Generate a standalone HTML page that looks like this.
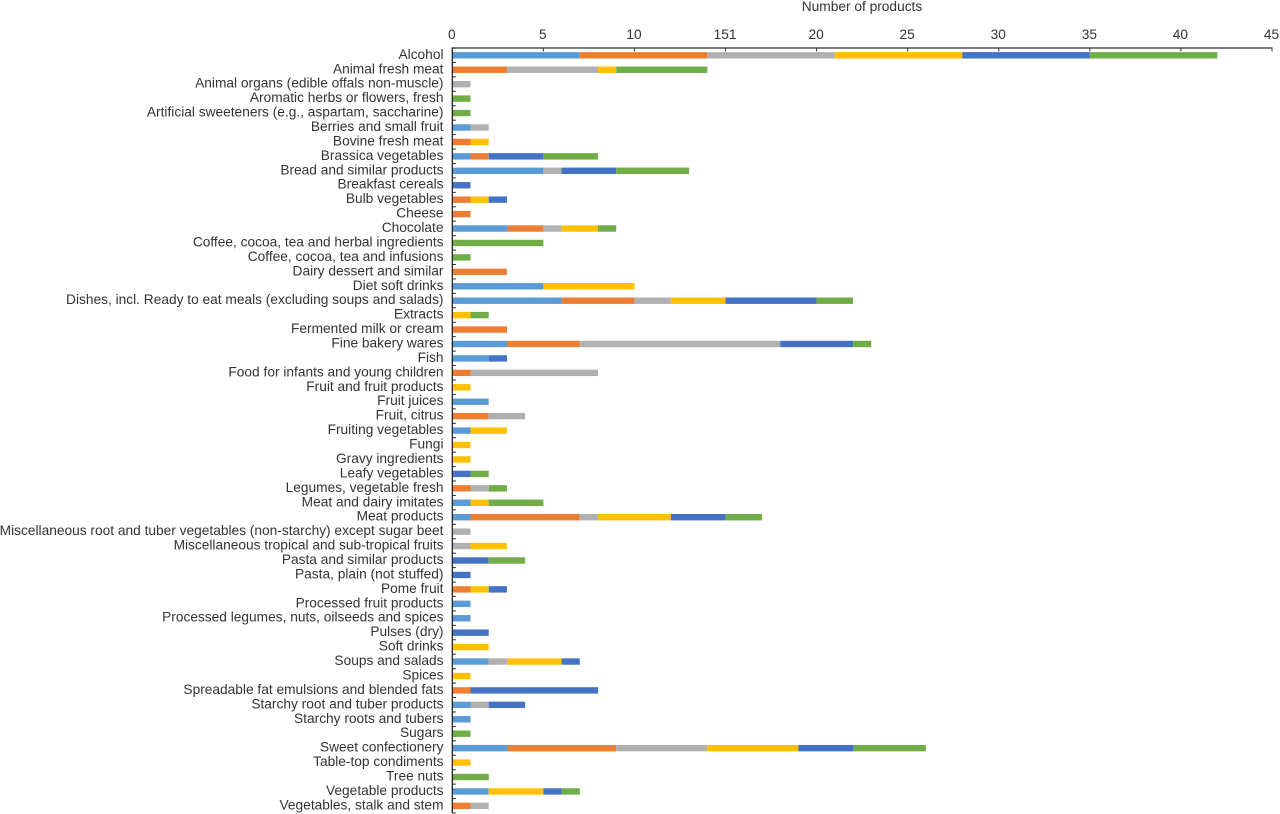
<!DOCTYPE html>
<html lang="en">
<head>
<meta charset="utf-8">
<title>Number of products by food category</title>
<style>
html,body{margin:0;padding:0;background:#fff;width:1280px;height:814px;overflow:hidden}
svg{display:block}
text{font-family:"Liberation Sans",sans-serif;font-size:13.72px;fill:#333}
</style>
</head>
<body>
<svg id="chart" width="1280" height="814" viewBox="0 0 1280 814" xmlns="http://www.w3.org/2000/svg"></svg>
<script>
const categories = ["Alcohol","Animal fresh meat","Animal organs (edible offals non-muscle)","Aromatic herbs or flowers, fresh","Artificial sweeteners (e.g., aspartam, saccharine)","Berries and small fruit","Bovine fresh meat","Brassica vegetables","Bread and similar products","Breakfast cereals","Bulb vegetables","Cheese","Chocolate","Coffee, cocoa, tea and herbal ingredients","Coffee, cocoa, tea and infusions","Dairy dessert and similar","Diet soft drinks","Dishes, incl. Ready to eat meals (excluding soups and salads)","Extracts","Fermented milk or cream","Fine bakery wares","Fish","Food for infants and young children","Fruit and fruit products","Fruit juices","Fruit, citrus","Fruiting vegetables","Fungi","Gravy ingredients","Leafy vegetables","Legumes, vegetable fresh","Meat and dairy imitates","Meat products","Miscellaneous root and tuber vegetables (non-starchy) except sugar beet","Miscellaneous tropical and sub-tropical fruits","Pasta and similar products","Pasta, plain (not stuffed)","Pome fruit","Processed fruit products","Processed legumes, nuts, oilseeds and spices","Pulses (dry)","Soft drinks","Soups and salads","Spices","Spreadable fat emulsions and blended fats","Starchy root and tuber products","Starchy roots and tubers","Sugars","Sweet confectionery","Table-top condiments","Tree nuts","Vegetable products","Vegetables, stalk and stem"];
const series1 = [7,0,0,0,0,1,0,1,5,0,0,0,3,0,0,0,5,6,0,0,3,2,0,0,2,0,1,0,0,0,0,1,1,0,0,0,0,0,1,1,0,0,2,0,0,1,1,0,3,0,0,2,0];
const series2 = [7,3,0,0,0,0,1,1,0,0,1,1,2,0,0,3,0,4,0,3,4,0,1,0,0,2,0,0,0,0,1,0,6,0,0,0,0,1,0,0,0,0,0,0,1,0,0,0,6,0,0,0,1];
const series3 = [7,5,1,0,0,1,0,0,1,0,0,0,1,0,0,0,0,2,0,0,11,0,7,0,0,2,0,0,0,0,1,0,1,1,1,0,0,0,0,0,0,0,1,0,0,1,0,0,5,0,0,0,1];
const series4 = [7,1,0,0,0,0,1,0,0,0,1,0,2,0,0,0,5,3,1,0,0,0,0,1,0,0,2,1,1,0,0,1,4,0,2,0,0,1,0,0,0,2,3,1,0,0,0,0,5,1,0,3,0];
const series5 = [7,0,0,0,0,0,0,3,3,1,1,0,0,0,0,0,0,5,0,0,4,1,0,0,0,0,0,0,0,1,0,0,3,0,0,2,1,1,0,0,2,0,1,0,7,2,0,0,3,0,0,1,0];
const series6 = [7,5,0,1,1,0,0,3,4,0,0,0,1,5,1,0,0,2,1,0,1,0,0,0,0,0,0,0,0,1,1,3,2,0,0,2,0,0,0,0,0,0,0,0,0,0,0,1,4,0,2,1,0];
const seriesList = [series1,series2,series3,series4,series5,series6];
const seriesColors = ["#5B9BD5","#ED7D31","#B0B0B0","#FFC000","#4472C4","#70AD47"];
const tickValues = [0,5,10,15,20,25,30,35,40,45];
const tickLabels = ["0","5","10","151","20","25","30","35","40","45"];
const axisTitle = "Number of products";

const NS = "http://www.w3.org/2000/svg";
const svg = document.getElementById("chart");
const plotLeft = 452.3, plotRight = 1272, plotTop = 48, plotBottom = 813;
const xMax = tickValues[tickValues.length - 1];
const xScale = v => plotLeft + (plotRight - plotLeft) * v / xMax;
const bandH = (plotBottom - plotTop) / categories.length;
const bandY = i => plotTop + bandH * i;
const barH = 6.4;

function add(tag, attrs, text) {
  const el = document.createElementNS(NS, tag);
  for (const k in attrs) el.setAttribute(k, attrs[k]);
  if (text !== undefined) el.textContent = text;
  svg.appendChild(el);
  return el;
}

const title = add("text", {x: 862, y: 10.8, "text-anchor": "middle"}, axisTitle);



categories.forEach((name, i) => {
  let cum = 0;
  seriesList.forEach((s, j) => {
    const v = s[i];
    if (v > 0) {
      const r = add("rect", {x: xScale(cum), y: bandY(i) + bandH / 2 - barH / 2 + 0.1, width: xScale(cum + v) - xScale(cum), height: barH, fill: seriesColors[j]});
      
      
    }
    cum += v;
  });
  const label = add("text", {x: 443.5, y: bandY(i) + bandH / 2 + 3.6, "text-anchor": "end"}, name);
  
  
});

const xAxis = add("line", {x1: plotLeft - 0.8, x2: plotRight + 0.5, y1: plotTop, y2: plotTop, stroke: "#333", "stroke-width": 1.3});


const yAxis = add("line", {x1: plotLeft, x2: plotLeft, y1: plotTop, y2: plotBottom, stroke: "#222", "stroke-width": 1.3});



tickValues.forEach((v, i) => {
  const t = add("line", {x1: xScale(v), x2: xScale(v), y1: plotTop, y2: plotTop + 3.5, stroke: "#333", "stroke-width": 1});
  
  
  const l = add("text", {x: xScale(v) - 0.5, y: 39, "text-anchor": "middle"}, tickLabels[i]);
  
  
});

for (let i = 0; i <= categories.length; i++) {
  const t = add("line", {x1: plotLeft, x2: plotLeft + 3.5, y1: bandY(i), y2: bandY(i), stroke: "#222", "stroke-width": 1});
  
  
}
</script>
</body>
</html>
